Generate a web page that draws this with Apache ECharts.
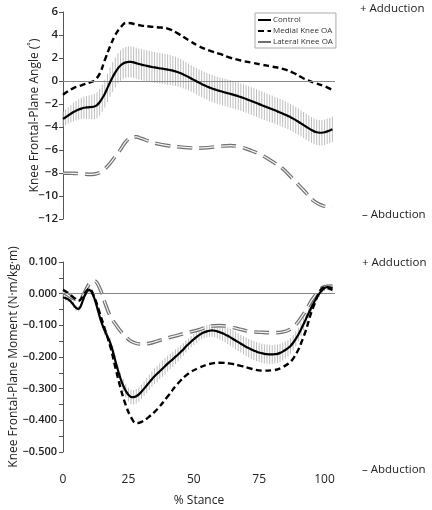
<!DOCTYPE html>
<html><head><meta charset="utf-8">
<script src="https://cdn.jsdelivr.net/npm/echarts@6/dist/echarts.min.js"></script>
<style>html,body{margin:0;padding:0;background:#fff}#c{width:432px;height:510px}</style>
</head><body><div id="c"></div>
<script>
// % stance, dense grid for the control group (mean ± SD drawn at each 1 %)
var controlAngle = [-3.30,-3.15,-3.00,-2.85,-2.70,-2.58,-2.48,-2.40,-2.33,-2.30,-2.28,-2.26,-2.22,-2.10,-1.85,-1.50,-1.10,-0.60,-0.10,0.35,0.75,1.10,1.35,1.52,1.62,1.67,1.66,1.62,1.55,1.48,1.42,1.37,1.32,1.27,1.22,1.18,1.14,1.10,1.07,1.03,0.99,0.95,0.90,0.84,0.76,0.67,0.57,0.46,0.34,0.22,0.10,-0.02,-0.14,-0.26,-0.37,-0.47,-0.56,-0.65,-0.73,-0.80,-0.87,-0.94,-1.00,-1.06,-1.12,-1.18,-1.25,-1.32,-1.40,-1.48,-1.56,-1.65,-1.74,-1.83,-1.92,-2.01,-2.10,-2.19,-2.28,-2.37,-2.46,-2.55,-2.64,-2.73,-2.83,-2.93,-3.04,-3.15,-3.27,-3.40,-3.54,-3.68,-3.83,-3.98,-4.12,-4.26,-4.38,-4.46,-4.50,-4.50,-4.46,-4.38,-4.30,-4.20];
var controlAngleSD = [0.65,0.68,0.72,0.76,0.80,0.84,0.88,0.92,0.96,1.00,1.03,1.06,1.09,1.12,1.15,1.18,1.21,1.24,1.27,1.29,1.30,1.31,1.32,1.33,1.34,1.35,1.35,1.35,1.35,1.35,1.35,1.35,1.35,1.35,1.34,1.34,1.33,1.33,1.32,1.32,1.31,1.30,1.29,1.27,1.25,1.23,1.21,1.19,1.17,1.16,1.15,1.15,1.15,1.15,1.16,1.16,1.17,1.17,1.18,1.18,1.18,1.19,1.19,1.19,1.20,1.20,1.20,1.20,1.20,1.20,1.20,1.20,1.20,1.20,1.20,1.20,1.20,1.20,1.19,1.19,1.19,1.18,1.18,1.18,1.17,1.17,1.16,1.16,1.15,1.15,1.15,1.14,1.14,1.13,1.13,1.12,1.12,1.12,1.11,1.11,1.10,1.10,1.10,1.10];
var controlMoment = [-0.012,-0.014,-0.018,-0.025,-0.035,-0.045,-0.048,-0.035,-0.012,0.005,0.012,0.005,-0.015,-0.042,-0.072,-0.097,-0.118,-0.136,-0.154,-0.180,-0.212,-0.242,-0.268,-0.290,-0.307,-0.319,-0.326,-0.327,-0.324,-0.318,-0.310,-0.300,-0.290,-0.280,-0.270,-0.261,-0.253,-0.245,-0.237,-0.229,-0.221,-0.214,-0.207,-0.199,-0.192,-0.184,-0.176,-0.167,-0.159,-0.151,-0.144,-0.137,-0.131,-0.126,-0.122,-0.119,-0.117,-0.116,-0.117,-0.119,-0.122,-0.125,-0.129,-0.133,-0.138,-0.143,-0.148,-0.153,-0.158,-0.163,-0.168,-0.172,-0.176,-0.180,-0.183,-0.186,-0.188,-0.190,-0.191,-0.192,-0.192,-0.191,-0.190,-0.187,-0.183,-0.178,-0.172,-0.165,-0.155,-0.143,-0.129,-0.113,-0.096,-0.078,-0.060,-0.043,-0.027,-0.013,0.000,0.010,0.018,0.021,0.020,0.017];
var controlMomentSD = [0.008,0.008,0.008,0.008,0.009,0.009,0.009,0.009,0.009,0.010,0.010,0.010,0.011,0.011,0.012,0.012,0.013,0.014,0.015,0.016,0.017,0.018,0.019,0.020,0.021,0.022,0.023,0.023,0.023,0.023,0.023,0.023,0.024,0.024,0.024,0.025,0.025,0.025,0.026,0.026,0.025,0.025,0.024,0.023,0.022,0.021,0.020,0.019,0.018,0.018,0.018,0.018,0.018,0.018,0.018,0.019,0.019,0.020,0.021,0.022,0.023,0.024,0.025,0.026,0.027,0.027,0.028,0.028,0.028,0.029,0.029,0.029,0.030,0.030,0.030,0.030,0.030,0.030,0.030,0.030,0.030,0.030,0.029,0.029,0.028,0.027,0.026,0.025,0.024,0.023,0.022,0.021,0.020,0.018,0.016,0.014,0.013,0.012,0.011,0.010,0.010,0.010,0.010,0.010];
// sparser % stance grid for the two patient groups
var stanceSparse = [0,2,4,6,8,10,12,14,16,18,20,22,24,26,28,30,33,36,40,44,48,52,56,60,64,68,72,76,80,84,88,92,96,100,103];
var medialAngle = [-1.20,-0.88,-0.62,-0.45,-0.30,-0.15,0.05,0.62,1.83,3.00,4.00,4.65,5.05,5.02,4.90,4.82,4.74,4.67,4.56,4.12,3.55,3.02,2.65,2.35,2.02,1.78,1.60,1.42,1.25,1.06,0.72,0.22,-0.15,-0.45,-0.78];
var lateralAngle = [-8.02,-8.02,-8.03,-8.05,-8.08,-8.12,-8.10,-7.97,-7.65,-7.16,-6.55,-5.95,-5.28,-4.92,-4.86,-5.00,-5.25,-5.45,-5.62,-5.72,-5.80,-5.84,-5.78,-5.68,-5.62,-5.75,-6.05,-6.45,-7.00,-7.62,-8.55,-9.50,-10.45,-10.90,-10.98];
var medialMoment = [0.012,0.002,-0.012,-0.022,-0.002,0.015,-0.012,-0.060,-0.112,-0.164,-0.232,-0.298,-0.352,-0.390,-0.409,-0.405,-0.388,-0.365,-0.325,-0.283,-0.252,-0.234,-0.222,-0.218,-0.221,-0.228,-0.237,-0.243,-0.242,-0.232,-0.205,-0.136,-0.036,0.020,0.012];
var lateralMoment = [0.005,-0.005,-0.015,-0.020,0.000,0.030,0.040,0.018,-0.028,-0.070,-0.096,-0.118,-0.136,-0.150,-0.157,-0.159,-0.157,-0.150,-0.140,-0.131,-0.122,-0.114,-0.103,-0.101,-0.105,-0.113,-0.120,-0.122,-0.123,-0.121,-0.106,-0.064,-0.010,0.022,0.024];
var xTicks = [0,25,50,75,100];
var seriesNames = ['Control','Medial Knee OA','Lateral Knee OA'];

function dense(arr){ return arr.map(function(v,i){ return [i, v]; }); }
function denseSD(arr, sd){ return arr.map(function(v,i){ return [i, v, sd[i]]; }); }
function sparse(arr){ return arr.map(function(v,i){ return [stanceSparse[i], v]; }); }
function minus(s){ return String(s).replace('-', '\u2212'); }

var FONT = 'Open Sans';
var txt = '#222';
var axisCol = '#555';

function errBars(params, api){
  var x = api.value(0), y = api.value(1), s = api.value(2);
  var a = api.coord([x, y + s]), b = api.coord([x, y - s]);
  return {type:'line', shape:{x1:a[0], y1:a[1], x2:b[0], y2:b[1]}, style:{stroke:'#bdbdbd', lineWidth:1}};
}
var zeroLine = {silent:true, symbol:['none','none'], label:{show:false}, lineStyle:{color:'#888', type:'solid', width:1}, data:[{yAxis:0}]};

function groupSeries(idx, ctrl, sd, med, lat){
  return [
    {type:'custom', name:'sd'+idx, xAxisIndex:idx, yAxisIndex:idx, renderItem:errBars, data:denseSD(ctrl, sd), encode:{x:0,y:1}, z:1, silent:true, markLine:zeroLine},
    {type:'line', name:'Lateral Knee OA', xAxisIndex:idx, yAxisIndex:idx, data:sparse(lat), smooth:0.4, symbol:'none', z:2, lineStyle:{color:'#707070', width:3.6, type:[15,7], cap:'butt'}, itemStyle:{color:'#707070'}},
    {type:'line', name:'latcore'+idx, xAxisIndex:idx, yAxisIndex:idx, data:sparse(lat), smooth:0.4, symbol:'none', z:3, silent:true, lineStyle:{color:'#f4f4f4', width:1.2, type:[15,7], cap:'butt'}},
    {type:'line', name:'Medial Knee OA', xAxisIndex:idx, yAxisIndex:idx, data:sparse(med), smooth:0.4, symbol:'none', z:4, lineStyle:{color:'#000', width:2.4, type:[6,3.5]}, itemStyle:{color:'#000'}},
    {type:'line', name:'Control', xAxisIndex:idx, yAxisIndex:idx, data:dense(ctrl), smooth:0.3, symbol:'none', z:5, lineStyle:{color:'#000', width:2.2}, itemStyle:{color:'#000'}}
  ];
}

var chart = echarts.init(document.getElementById('c'), null, {renderer:'canvas'});
var sideText = function(t, x, y){ return {type:'text', left:x, top:y, style:{text:t, font:'11.5px "'+FONT+'"', fill:txt}}; };
chart.setOption({
  animation:false,
  backgroundColor:'#fff',
  grid:[{left:63, top:12, width:272, height:207, containLabel:false, outerBoundsMode:'none'},
        {left:63, top:262, width:272, height:190, containLabel:false, outerBoundsMode:'none'}],
  legend:{data:seriesNames, orient:'vertical', left:255, top:13, itemWidth:13, itemHeight:6, itemGap:3, padding:[3,3,2,2],
    itemStyle:{opacity:0}, borderColor:'#aaa', borderWidth:1, textStyle:{fontFamily:FONT, fontSize:8, color:'#333', lineHeight:8, padding:[0,0,0,-3]}},
  xAxis:[
    {gridIndex:0, type:'value', min:0, max:104, show:false},
    {gridIndex:1, type:'value', min:0, max:104, interval:25, axisLine:{show:false}, axisTick:{show:false}, splitLine:{show:false},
      axisLabel:{margin:22, fontFamily:FONT, fontSize:12, color:txt, formatter:function(v){ return xTicks.indexOf(v) >= 0 ? String(v) : ''; }},
      name:'% Stance', nameLocation:'middle', nameGap:43, nameTextStyle:{fontFamily:FONT, fontSize:12, color:txt}}
  ],
  yAxis:[
    {gridIndex:0, type:'value', min:-12, max:6, interval:2, splitLine:{show:false},
      axisLine:{show:true, lineStyle:{color:axisCol}}, axisTick:{show:true, length:4, lineStyle:{color:axisCol}},
      axisLabel:{fontFamily:FONT, fontSize:11.5, fontWeight:600, color:txt, margin:5, formatter:function(v){ return minus(v); }},
      name:'Knee Frontal-Plane Angle (\u02da)', nameLocation:'middle', nameGap:22, nameMoveOverlap:false, nameTextStyle:{fontFamily:FONT, fontSize:12, color:txt}},
    {gridIndex:1, type:'value', min:-0.5, max:0.1, interval:0.1, splitLine:{show:false},
      axisLine:{show:true, lineStyle:{color:axisCol}}, axisTick:{show:true, length:4, lineStyle:{color:axisCol}},
      minorTick:{show:true, splitNumber:2, length:4, lineStyle:{color:axisCol}},
      axisLabel:{fontFamily:FONT, fontSize:11, fontWeight:600, color:txt, margin:6, formatter:function(v){ return minus(v.toFixed(3)); }},
      name:'Knee Frontal-Plane Moment (N\u00b7m/kg\u00b7m)', nameLocation:'middle', nameGap:43, nameMoveOverlap:false, nameTextStyle:{fontFamily:FONT, fontSize:12, color:txt}}
  ],
  series: groupSeries(0, controlAngle, controlAngleSD, medialAngle, lateralAngle)
    .concat(groupSeries(1, controlMoment, controlMomentSD, medialMoment, lateralMoment)),
  graphic:[
    sideText('+ Adduction', 360, 3),
    sideText('\u2013 Abduction', 362, 209),
    sideText('+ Adduction', 362, 257),
    sideText('\u2013 Abduction', 362, 464)
  ]
});
</script></body></html>
